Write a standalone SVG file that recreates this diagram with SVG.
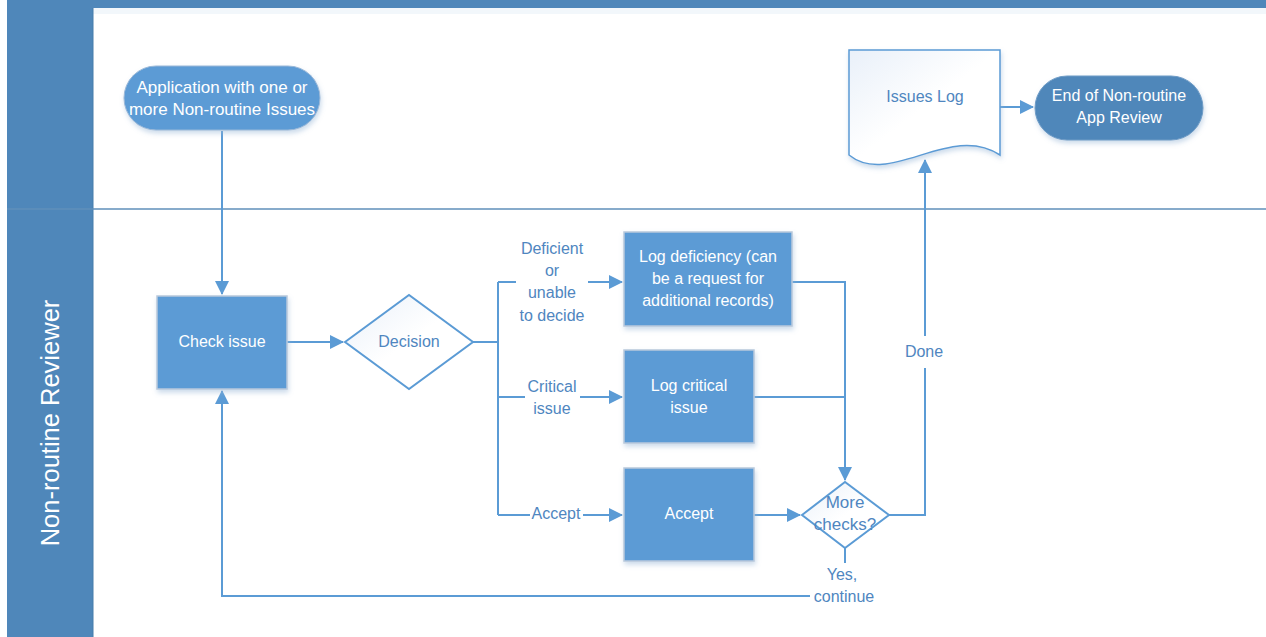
<svg xmlns="http://www.w3.org/2000/svg" width="1266" height="637" viewBox="0 0 1266 637">
  <defs>
    <style>
      .lbl { font-family: "Liberation Sans", Arial, sans-serif; font-size: 16px; text-anchor: middle; }
      .big { font-size: 17px; }
      .wt { fill: #ffffff; }
      .bt { fill: #4f86c0; }
      .proc { fill: #5b9bd5; stroke: #b9c9dc; stroke-width: 1.5; }
      .term { fill: #5b9bd5; stroke: #9bb8d8; stroke-width: 1; }
      .term-end { fill: #4f87ba; stroke: #6f9cc6; stroke-width: 1; }
      .dia { fill: url(#paleFill); stroke: #5b9bd5; stroke-width: 2; }
      .conn { fill: none; stroke: #5b9bd5; stroke-width: 2; }
      .lane { fill: #4f87ba; }
      .laneLine { stroke: #5f8fba; stroke-width: 1.5; }
    </style>
    <linearGradient id="paleFill" x1="0" y1="0" x2="1" y2="1">
      <stop offset="0" stop-color="#e9f0f9"/>
      <stop offset="0.5" stop-color="#ffffff"/>
      <stop offset="1" stop-color="#ffffff"/>
    </linearGradient>
    <filter id="shadow" x="-20%" y="-20%" width="140%" height="150%">
      <feGaussianBlur in="SourceAlpha" stdDeviation="2.5"/>
      <feOffset dx="1" dy="3" result="b"/>
      <feFlood flood-color="#9ab8d8" flood-opacity="0.5"/>
      <feComposite in2="b" operator="in"/>
      <feMerge><feMergeNode/><feMergeNode in="SourceGraphic"/></feMerge>
    </filter>
    <marker id="arrowL" markerWidth="14" markerHeight="14" refX="13" refY="7" orient="auto" markerUnits="userSpaceOnUse" viewBox="0 0 14 14">
      <path d="M0,0 L14,7 L0,14 z" fill="#5b9bd5"/>
    </marker>
  </defs>

  <!-- swimlane frame -->
  <g id="swimlanes">
    <rect x="0" y="0" width="1266" height="637" fill="#ffffff"/>
    <rect class="lane" x="7" y="0" width="1259" height="8"/>
    <rect x="93" y="8" width="1173" height="6" fill="#eaf1f9" opacity="0.6"/>
    <rect class="lane" x="7" y="8" width="86" height="629"/>
    <line x1="93" y1="8" x2="93" y2="637" stroke="#477cab" stroke-width="1"/>
    <line class="laneLine" x1="7" y1="209" x2="1266" y2="209"/>
    <text class="lbl wt" transform="translate(59,423) rotate(-90)" style="font-size:25.5px">Non-routine Reviewer</text>
  </g>

  <!-- connectors -->
  <g id="connectors">
    <path class="conn" d="M222,131 V294" marker-end="url(#arrowL)"/>
    <path class="conn" d="M287,342 H343" marker-end="url(#arrowL)"/>
    <path class="conn" d="M473,342 H498"/>
    <path class="conn" d="M498,282 V515"/>
    <path class="conn" d="M498,282 H516"/>
    <path class="conn" d="M588,282 H622" marker-end="url(#arrowL)"/>
    <path class="conn" d="M498,397 H525"/>
    <path class="conn" d="M580,397 H622" marker-end="url(#arrowL)"/>
    <path class="conn" d="M498,515 H530"/>
    <path class="conn" d="M583,515 H622" marker-end="url(#arrowL)"/>
    <path class="conn" d="M792,282 H845 V480" marker-end="url(#arrowL)"/>
    <path class="conn" d="M754,397 H845"/>
    <path class="conn" d="M754,515 H800" marker-end="url(#arrowL)"/>
    <path class="conn" d="M889,515 H925 V368"/>
    <path class="conn" d="M925,336 V160" marker-end="url(#arrowL)"/>
    <path class="conn" d="M845,547 V563"/>
    <path class="conn" d="M810,596 H222 V391" marker-end="url(#arrowL)"/>
    <path class="conn" d="M1000,107 H1033" marker-end="url(#arrowL)"/>
    <text class="lbl bt" x="552" y="254">Deficient</text>
    <text class="lbl bt" x="552" y="276">or</text>
    <text class="lbl bt" x="552" y="298">unable</text>
    <text class="lbl bt" x="552" y="321">to decide</text>
    <text class="lbl bt" x="552" y="392">Critical</text>
    <text class="lbl bt" x="552" y="414">issue</text>
    <text class="lbl bt" x="556" y="519">Accept</text>
    <text class="lbl bt" x="924" y="357">Done</text>
    <text class="lbl bt" x="842" y="580">Yes,</text>
    <text class="lbl bt" x="844" y="602">continue</text>
  </g>

  <g id="start">
    <rect class="term" x="124" y="66" width="196" height="64" rx="32" filter="url(#shadow)"/>
    <text class="lbl big wt" x="222" y="93">Application with one or</text>
    <text class="lbl big wt" x="222" y="115">more Non-routine Issues</text>
  </g>

  <g id="check-issue">
    <rect class="proc" x="157" y="296" width="130" height="93" filter="url(#shadow)"/>
    <text class="lbl wt" x="222" y="347">Check issue</text>
  </g>

  <g id="decision">
    <polygon class="dia" points="345,342 409,295 473,342 409,389"/>
    <text class="lbl bt" x="409" y="347">Decision</text>
  </g>

  <g id="log-deficiency">
    <rect class="proc" x="624" y="232" width="168" height="94" filter="url(#shadow)"/>
    <text class="lbl wt" x="708" y="262">Log deficiency (can</text>
    <text class="lbl wt" x="708" y="284">be a request for</text>
    <text class="lbl wt" x="708" y="306">additional records)</text>
  </g>

  <g id="log-critical">
    <rect class="proc" x="624" y="350" width="130" height="93" filter="url(#shadow)"/>
    <text class="lbl wt" x="689" y="391">Log critical</text>
    <text class="lbl wt" x="689" y="413">issue</text>
  </g>

  <g id="accept">
    <rect class="proc" x="624" y="468" width="130" height="93" filter="url(#shadow)"/>
    <text class="lbl wt" x="689" y="519">Accept</text>
  </g>

  <g id="more-checks">
    <polygon class="dia" points="802,515 845,482 889,515 845,548"/>
    <text class="lbl big bt" x="845" y="508">More</text>
    <text class="lbl big bt" x="845" y="530">checks?</text>
  </g>

  <g id="issues-log">
    <path d="M849,50 H1000 V155 C950,122 890,188 849,155 Z" fill="url(#paleFill)" stroke="#5b9bd5" stroke-width="1.5" filter="url(#shadow)"/>
    <text class="lbl bt" x="925" y="102">Issues Log</text>
  </g>

  <g id="end">
    <rect class="term-end" x="1035" y="76" width="168" height="64" rx="32" filter="url(#shadow)"/>
    <text class="lbl wt" x="1119" y="101">End of Non-routine</text>
    <text class="lbl wt" x="1119" y="123">App Review</text>
  </g>
</svg>
